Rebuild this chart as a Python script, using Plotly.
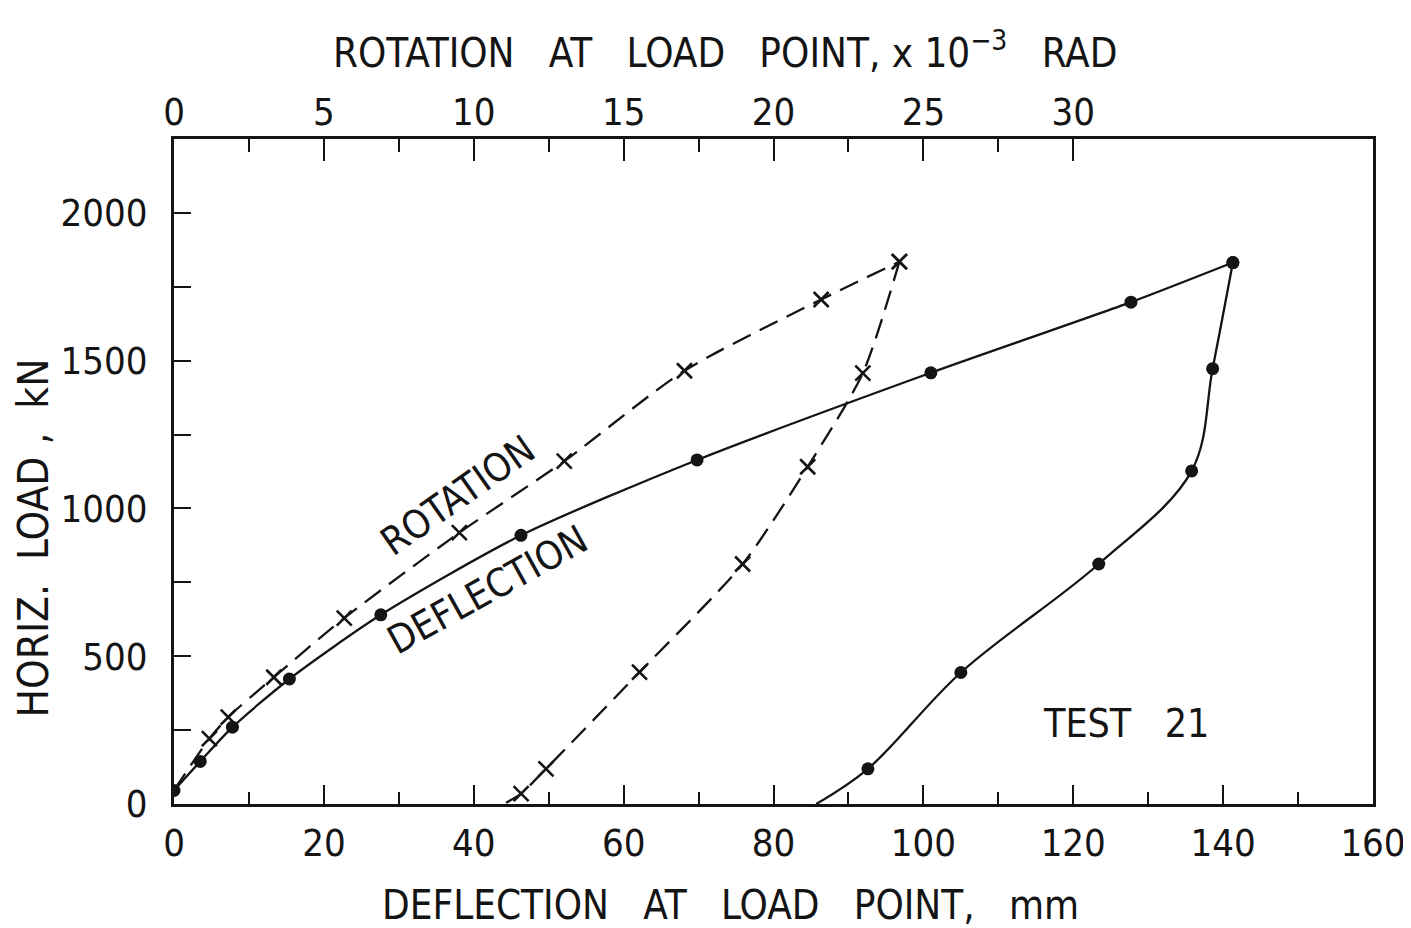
import plotly.graph_objects as go

# ---- data ----
# Deflection (mm) vs horizontal load (kN): loading branch
defl_load_x = [0.0, 3.5, 7.8, 15.4, 27.6, 46.3, 69.8, 101.0, 127.7, 141.3]
defl_load_y = [46, 144, 260, 423, 640, 909, 1164, 1459, 1698, 1832]
# Deflection unloading branch (last point = end of line, no marker)
defl_unload_x = [141.3, 138.6, 135.8, 123.4, 105.0, 92.6, 85.7]
defl_unload_y = [1832, 1473, 1127, 812, 445, 119, 0]

# Rotation (x10^-3 rad) vs horizontal load (kN): loading branch
rot_load_x = [0.0, 1.18, 1.81, 3.33, 5.68, 9.52, 13.02, 17.03, 21.59, 24.2]
rot_load_y = [46, 221, 294, 429, 629, 918, 1160, 1466, 1707, 1835]
# Rotation unloading branch (last point = end of line, no marker)
rot_unload_x = [24.2, 22.98, 21.14, 18.97, 15.53, 12.41, 11.58, 11.0]
rot_unload_y = [1835, 1458, 1141, 812, 446, 119, 35, 0]

bottom_ticks = [0, 20, 40, 60, 80, 100, 120, 140, 160]
top_ticks = [0, 5, 10, 15, 20, 25, 30]
top_minor = [2.5, 7.5, 12.5, 17.5, 22.5, 27.5]
left_ticks = [0, 500, 1000, 1500, 2000]

INK = "#141414"
FONT = "DejaVu Sans Condensed, Liberation Sans Narrow, DejaVu Sans, sans-serif"
NB = "\u00a0"

fig = go.Figure()

def sizes(n, s, first_hidden=False, last_hidden=False):
    arr = [s] * n
    if first_hidden:
        arr[0] = 0
    if last_hidden:
        arr[-1] = 0
    return arr

dot = dict(symbol="circle", color=INK, opacity=1, line=dict(width=0, color=INK))
xm = dict(symbol="x-thin", color=INK, opacity=1, line=dict(width=2.6, color=INK))
solid = dict(color=INK, width=2.3, shape="spline", smoothing=0.7)
solid_u = dict(color=INK, width=2.3, shape="spline", smoothing=1.0)
dashed = dict(color=INK, width=2.3, dash="20px,10px", shape="spline", smoothing=0.7)

# Deflection curves (solid, filled dots) on bottom axis
fig.add_trace(go.Scatter(
    x=defl_load_x, y=defl_load_y, mode="lines+markers", line=solid,
    marker=dict(size=13, **dot),
    xaxis="x", yaxis="y", showlegend=False, hoverinfo="skip"))
fig.add_trace(go.Scatter(
    x=defl_unload_x, y=defl_unload_y, mode="lines+markers", line=solid_u,
    marker=dict(size=sizes(len(defl_unload_x), 13, last_hidden=True), **dot),
    xaxis="x", yaxis="y", showlegend=False, hoverinfo="skip"))

# Rotation curves (dashed, x markers) on top axis
fig.add_trace(go.Scatter(
    x=rot_load_x, y=rot_load_y, mode="lines+markers", line=dashed,
    marker=dict(size=sizes(len(rot_load_x), 15, first_hidden=True), **xm),
    xaxis="x2", yaxis="y", showlegend=False, hoverinfo="skip"))
fig.add_trace(go.Scatter(
    x=rot_unload_x, y=rot_unload_y, mode="lines+markers", line=dashed,
    marker=dict(size=sizes(len(rot_unload_x), 15, last_hidden=True), **xm),
    xaxis="x2", yaxis="y", showlegend=False, hoverinfo="skip"))

tickfont = dict(family=FONT, size=38, color=INK)
tfont = dict(family=FONT, size=40, color=INK)
yfont = dict(family=FONT, size=42, color=INK)
lfont = dict(family=FONT, size=39, color=INK)

fig.update_layout(
    width=1411, height=928,
    margin=dict(l=166, r=46, t=131, b=132),
    paper_bgcolor="white", plot_bgcolor="white",
    font=dict(family=FONT, color=INK),
    xaxis=dict(
        range=[0, 160], tickmode="array", tickvals=bottom_ticks,
        ticks="inside", ticklen=19, tickwidth=2.2, tickcolor=INK,
        minor=dict(dtick=10, tick0=0, ticks="inside", ticklen=12, tickwidth=2.2, tickcolor=INK),
        showline=True, linecolor=INK, linewidth=3, showgrid=False, zeroline=False,
        tickfont=tickfont, ticklabelstandoff=3,
    ),
    xaxis2=dict(
        range=[0, 40], overlaying="x", side="top", anchor="y",
        tickmode="array", tickvals=top_ticks,
        ticks="inside", ticklen=22, tickwidth=2.2, tickcolor=INK,
        minor=dict(tickmode="array", tickvals=top_minor, ticks="inside", ticklen=13,
                   tickwidth=2.2, tickcolor=INK),
        showline=True, linecolor=INK, linewidth=3, showgrid=False, zeroline=False,
        tickfont=tickfont, ticklabelstandoff=-4,
    ),
    yaxis=dict(
        range=[0, 2250], tickmode="array", tickvals=left_ticks,
        ticks="inside", ticklen=17, tickwidth=2.2, tickcolor=INK,
        minor=dict(dtick=250, tick0=0, ticks="inside", ticklen=17, tickwidth=2.2, tickcolor=INK),
        showline=True, mirror=True, linecolor=INK, linewidth=3, showgrid=False, zeroline=False,
        tickfont=tickfont, ticklabelstandoff=16,
    ),
    annotations=[
        dict(text=f"ROTATION{NB*3}AT{NB*3}LOAD{NB*3}POINT,{NB}x{NB}10<sup>\u22123</sup>{NB*3}RAD",
             xref="paper", yref="paper", x=0.4596, y=1.134, showarrow=False,
             xanchor="center", yanchor="middle", font=tfont),
        dict(text=f"DEFLECTION{NB*3}AT{NB*3}LOAD{NB*3}POINT,{NB*3}mm",
             xref="paper", yref="paper", x=0.4645, y=-0.152, showarrow=False,
             xanchor="center", yanchor="middle", font=tfont),
        dict(text=f"HORIZ.{NB*2}LOAD{NB},{NB*2}kN",
             xref="paper", yref="paper", x=-0.118, y=0.40, showarrow=False, textangle=-90,
             xanchor="center", yanchor="middle", font=yfont),
        dict(text="ROTATION", xref="x", yref="y", x=37.8, y=1045, showarrow=False,
             textangle=-35, font=lfont),
        dict(text="DEFLECTION", xref="x", yref="y", x=41.9, y=725, showarrow=False,
             textangle=-29, font=lfont),
        dict(text=f"TEST{NB*3}21", xref="x", yref="y", x=127.1, y=271, showarrow=False,
             font=lfont),
    ],
)

fig.write_html("out.html")
